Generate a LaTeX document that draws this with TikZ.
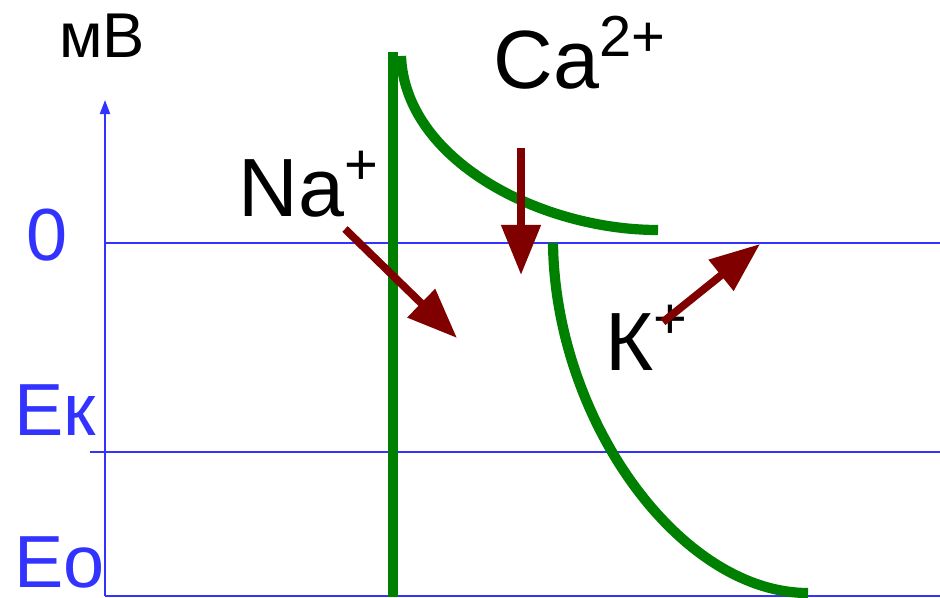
\documentclass[tikz,border=0pt]{standalone}
\usepackage{fontspec}
\setmainfont{Liberation Sans}
\usetikzlibrary{arrows.meta}

\definecolor{axisblue}{RGB}{51,51,255}
\definecolor{curvegreen}{RGB}{0,128,0}
\definecolor{ionred}{RGB}{128,0,0}

\begin{document}
\begin{tikzpicture}[x=0.01cm, y=-0.01cm]
    % Define styles
    \tikzstyle{axisline} = [draw=axisblue, line width=0.6pt]
    \tikzstyle{levellabel} = [text=axisblue, inner sep=0pt, text depth=0pt, font=\fontsize{21}{21}\selectfont]
    \tikzstyle{ionlabel} = [text=black, inner sep=0pt, font=\fontsize{23.5}{23.5}\selectfont]
    \tikzstyle{channel} = [draw=curvegreen, line width=2.9pt]
    \tikzstyle{flux} = [draw=ionred, line width=2.2pt, -{Triangle[length=5mm, width=3.8mm]}]

    \useasboundingbox (0,0) rectangle (940,597);

    % Axis and levels
    \coordinate (axbot) at (105,596);
    \coordinate (axtop) at (105,100);
    \coordinate (zeroL) at (105,243);
    \coordinate (zeroR) at (940,243);
    \coordinate (ekL) at (90,452);
    \coordinate (ekR) at (940,452);
    \coordinate (eoR) at (940,596);
    \draw[axisline, -{Triangle[length=1.4mm, width=1mm]}] (axbot) -- (axtop);
    \draw[axisline] (zeroL) -- (zeroR);
    \draw[axisline] (ekL) -- (ekR);
    \draw[axisline] (axbot) -- (eoR);

    % Axis labels
    \node[anchor=base, inner sep=0pt, font=\fontsize{18}{18}\selectfont] (unit) at (102,57) {мВ};
    \node[levellabel, anchor=base] (zero) at (47,260) {0};
    \node[levellabel, anchor=base west] (ek) at (14,435) {Ек};
    \node[levellabel, anchor=base west] (eo) at (14,587) {Ео};

    % Channel curves
    \coordinate (naTop) at (393,52);
    \coordinate (naBot) at (393,597);
    \draw[channel, line width=3.1pt] (naTop) -- (naBot);
    \coordinate (caA) at (401,56);
    \coordinate (caB) at (658,230);
    \draw[channel] (caA) .. controls (405,160) and (540,230) .. (caB);
    \coordinate (kA) at (553,243);
    \coordinate (kB) at (808,593);
    \draw[channel] (kA) .. controls (555,420) and (680,593) .. (kB);

    % Ion labels
    \node[ionlabel, anchor=base west] (na) at (238,216) {Na\textsuperscript{+}};
    \node[ionlabel, anchor=base west] (ca) at (493,88) {Ca\textsuperscript{2+}};
    \node[ionlabel, anchor=base west] (k) at (605,370) {К\textsuperscript{+}};

    % Ion fluxes
    \coordinate (naS) at (345,229);
    \coordinate (naE) at (457,338);
    \coordinate (caS) at (521,148);
    \coordinate (caE) at (521,275);
    \coordinate (kS) at (663,322);
    \coordinate (kE) at (760,244);
    \draw[flux] (naS) -- (naE);
    \draw[flux] (caS) -- (caE);
    \draw[flux] (kS) -- (kE);

\end{tikzpicture}
\end{document}
